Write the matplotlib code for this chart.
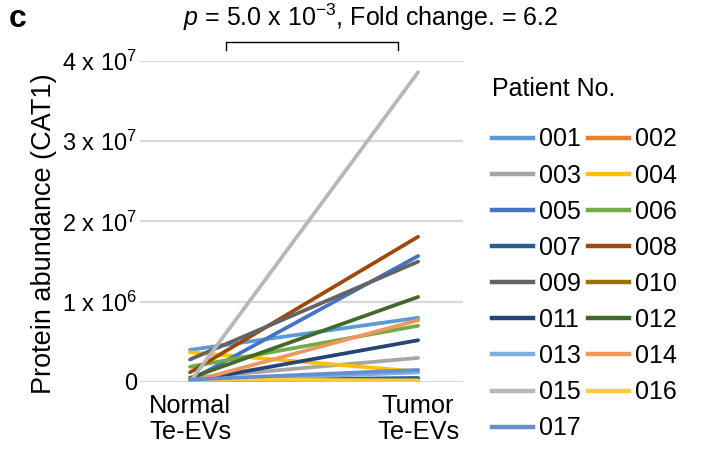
import matplotlib
matplotlib.use("Agg")
import matplotlib.pyplot as plt
from matplotlib.lines import Line2D

plt.rcParams['font.family'] = ['Liberation Sans', 'DejaVu Sans']
plt.rcParams['mathtext.fontset'] = 'custom'
plt.rcParams['mathtext.rm'] = 'Liberation Sans'
plt.rcParams['mathtext.it'] = 'Liberation Sans:italic'
plt.rcParams['mathtext.bf'] = 'Liberation Sans:bold'

groups = ["Normal\nTe-EVs", "Tumor\nTe-EVs"]
patients = ["001", "002", "003", "004", "005", "006", "007", "008", "009",
            "010", "011", "012", "013", "014", "015", "016", "017"]
# values in units of 1e7
normal = [0.40, 0.03, 0.05, 0.37, 0.02, 0.19, 0.02, 0.12, 0.28,
          0.00, 0.01, 0.05, 0.01, 0.00, 0.00, 0.03, 0.03]
tumor = [0.80, 0.04, 0.30, 0.13, 1.57, 0.70, 0.05, 1.81, 1.50,
         0.00, 0.52, 1.06, 0.12, 0.77, 3.86, 0.02, 0.15]
colors = ["#5B9BD5", "#ED7D31", "#A5A5A5", "#FFC000", "#4472C4", "#70AD47",
          "#255E91", "#9E480E", "#636363", "#997300", "#264478", "#43682B",
          "#7CAFDD", "#F1975A", "#B7B7B7", "#FFCD33", "#698ED0"]
ytick_vals = [0, 1, 2, 3, 4]
ytick_labels = ["0", "1 x 10$^{6}$", "2 x 10$^{7}$", "3 x 10$^{7}$", "4 x 10$^{7}$"]

fig = plt.figure(figsize=(7.09, 4.61), dpi=100)
ax = fig.add_axes([0.1975, 0.1714, 0.4556, 0.6963])

xs = [0, 1]
for i, p in enumerate(patients):
    ax.plot(xs, [normal[i], tumor[i]], color=colors[i], lw=2.7,
            solid_capstyle='round', zorder=3)

ax.set_xlim(-0.219, 1.197)
ax.set_ylim(0, 4)
ax.set_yticks(ytick_vals)
ax.set_yticklabels(ytick_labels, fontsize=17)
ax.set_xticks(xs)
ax.set_xticklabels(groups, fontsize=18.3, linespacing=1.1)
ax.tick_params(axis='both', length=0)
ax.tick_params(axis='y', pad=2)
ax.tick_params(axis='x', pad=9)
for s in ax.spines.values():
    s.set_visible(False)
for v in ytick_vals:
    ax.axhline(v, color="#D9D9D9", lw=1.6, zorder=1)
ax.set_ylabel("Protein abundance (CAT1)", fontsize=19.5)
ax.yaxis.set_label_coords(-0.258, 0.461)

# significance bracket
bx0, bx1 = 0.158, 0.912
trans = ax.get_xaxis_transform()
ax.plot([bx0, bx0, bx1, bx1], [1.034, 1.06, 1.06, 1.034], color="black",
        lw=1.0, transform=trans, clip_on=False)
fig.text(0.523, 0.962, "$p$ = 5.0 x 10$^{-3}$, Fold change. = 6.2",
         fontsize=18, ha='center', va='center')
fig.text(0.012, 0.958, "c", fontsize=23, fontweight='bold', ha='left', va='center')

# legend (row-wise order)
handles = [Line2D([0], [0], color=c, lw=3.2) for c in colors]
order = list(range(0, 17, 2)) + list(range(1, 17, 2))
leg = fig.legend([handles[i] for i in order], [patients[i] for i in order],
                 ncol=2, loc='upper left', bbox_to_anchor=(0.694, 0.833),
                 frameon=False, fontsize=18, handlelength=1.64,
                 handletextpad=0.24, columnspacing=0.28, labelspacing=0.485,
                 borderpad=0, borderaxespad=0, title="Patient No.",
                 title_fontsize=18, alignment='left')
leg._legend_box.sep = 19

fig.savefig("out.png", dpi=100)
